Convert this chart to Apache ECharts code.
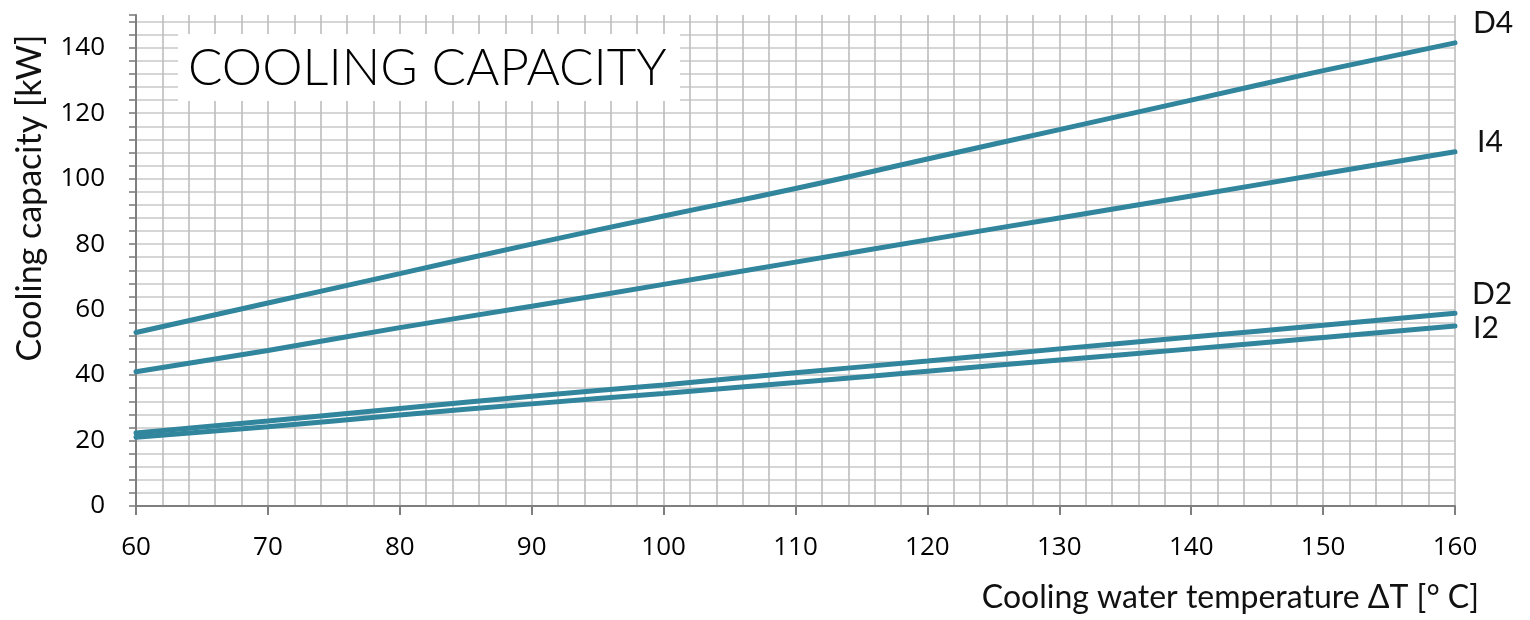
<!DOCTYPE html>
<html>
<head>
<meta charset="utf-8">
<script src="https://cdn.jsdelivr.net/npm/echarts@6/dist/echarts.min.js"></script>
<style>
html,body{margin:0;padding:0;background:#fff;}
#chart{width:1530px;height:620px;}
</style>
</head>
<body>
<div id="chart"></div>
<script>
const temps = [60, 70, 80, 90, 100, 110, 120, 130, 140, 150, 160];
const D4 = [53, 62, 71, 80, 88.6, 97, 106, 115, 124, 133, 141.5];
const I4 = [41, 47.5, 54.5, 61, 67.7, 74.5, 81.3, 88, 94.7, 101.5, 108.2];
const D2 = [22.3, 26, 29.8, 33.5, 37, 40.7, 44.3, 48, 51.6, 55.2, 58.9];
const I2 = [21, 24.2, 27.8, 31.2, 34.4, 37.7, 41.2, 44.6, 48, 51.5, 55];
const seriesNames = ['D4', 'I4', 'D2', 'I2'];
const yTickLabels = [0, 20, 40, 60, 80, 100, 120, 140];
const xTickLabels = [60, 70, 80, 90, 100, 110, 120, 130, 140, 150, 160];

const lineColor = '#31859C';
const labelOffsets = {D4: [18, -19], I4: [22, -9], D2: [17, -19], I2: [18, 2]};
const dataMap = {D4, I4, D2, I2};

const chart = echarts.init(document.getElementById('chart'));
const series = seriesNames.map(n => ({
  name: n,
  type: 'line',
  xAxisIndex: 0,
  yAxisIndex: 0,
  data: temps.map((t, i) => [t, dataMap[n][i]]),
  showSymbol: false,
  smooth: true,
  lineStyle: {color: lineColor, width: 5, cap: 'round'},
  itemStyle: {color: lineColor},
  endLabel: {
    show: true,
    formatter: n,
    distance: 0,
    offset: labelOffsets[n],
    fontFamily: 'Lato',
    fontSize: 30,
    color: '#111'
  },
  animation: false
}));

chart.setOption({
  animation: false,
  grid: {left: 136, right: 75, top: 15, bottom: 114},
  xAxis: [
    {
      type: 'value', min: 60, max: 160, interval: 10, position: 'bottom',
      axisLine: {show: true, onZero: false, lineStyle: {color: '#7f7f7f', width: 2}},
      axisTick: {show: true, length: 9, lineStyle: {color: '#7f7f7f', width: 2}},
      axisLabel: {
        margin: 29, fontFamily: 'Open Sans', fontSize: 26, color: '#000',
        formatter: v => xTickLabels.includes(v) ? String(v) : ''
      },
      splitLine: {show: true, lineStyle: {color: '#bdbdbd', width: 1.6}},
      minorTick: {show: false, splitNumber: 5},
      minorSplitLine: {show: true, lineStyle: {color: '#bdbdbd', width: 1.6}}
    }
  ],
  yAxis: [
    {
      type: 'value', min: 0, max: 150, interval: 20, position: 'left',
      axisLine: {show: true, onZero: false, lineStyle: {color: '#7f7f7f', width: 2}},
      axisTick: {show: false},
      axisLabel: {
        margin: 31, fontFamily: 'Open Sans', fontSize: 26, color: '#000',
        showMaxLabel: false,
        formatter: v => yTickLabels.includes(v) ? String(v) : ''
      },
      splitLine: {show: false}
    },
    {
      type: 'value', min: 0, max: 150, interval: 4, position: 'left',
      axisLine: {show: false},
      axisTick: {show: true, length: 7, lineStyle: {color: '#7f7f7f', width: 1.6}},
      axisLabel: {show: false},
      splitLine: {show: true, showMaxLine: false, lineStyle: {color: '#c8c8c8', width: 1.6}}
    }
  ],
  series: series,
  graphic: [
    {
      type: 'rect', z: 50,
      shape: {x: 178, y: 34, width: 502, height: 67},
      style: {fill: '#fff'}
    },
    {
      type: 'text', z: 51, x: 188, y: 69,
      style: {text: 'COOLING CAPACITY', fontFamily: 'Lato', fontWeight: 300, fontSize: 51,
        fill: '#000', verticalAlign: 'middle'}
    },
    {
      type: 'text', z: 51, x: 1479, y: 598,
      style: {text: 'Cooling water temperature ΔT [° C]', fontFamily: 'Lato', fontSize: 32,
        fill: '#111', align: 'right', verticalAlign: 'middle'}
    },
    {
      type: 'text', z: 51, x: 30, y: 198, rotation: Math.PI / 2,
      style: {text: 'Cooling capacity [kW]', fontFamily: 'Lato', fontSize: 34,
        fill: '#111', align: 'center', verticalAlign: 'middle'}
    }
  ]
});
</script>
</body>
</html>
